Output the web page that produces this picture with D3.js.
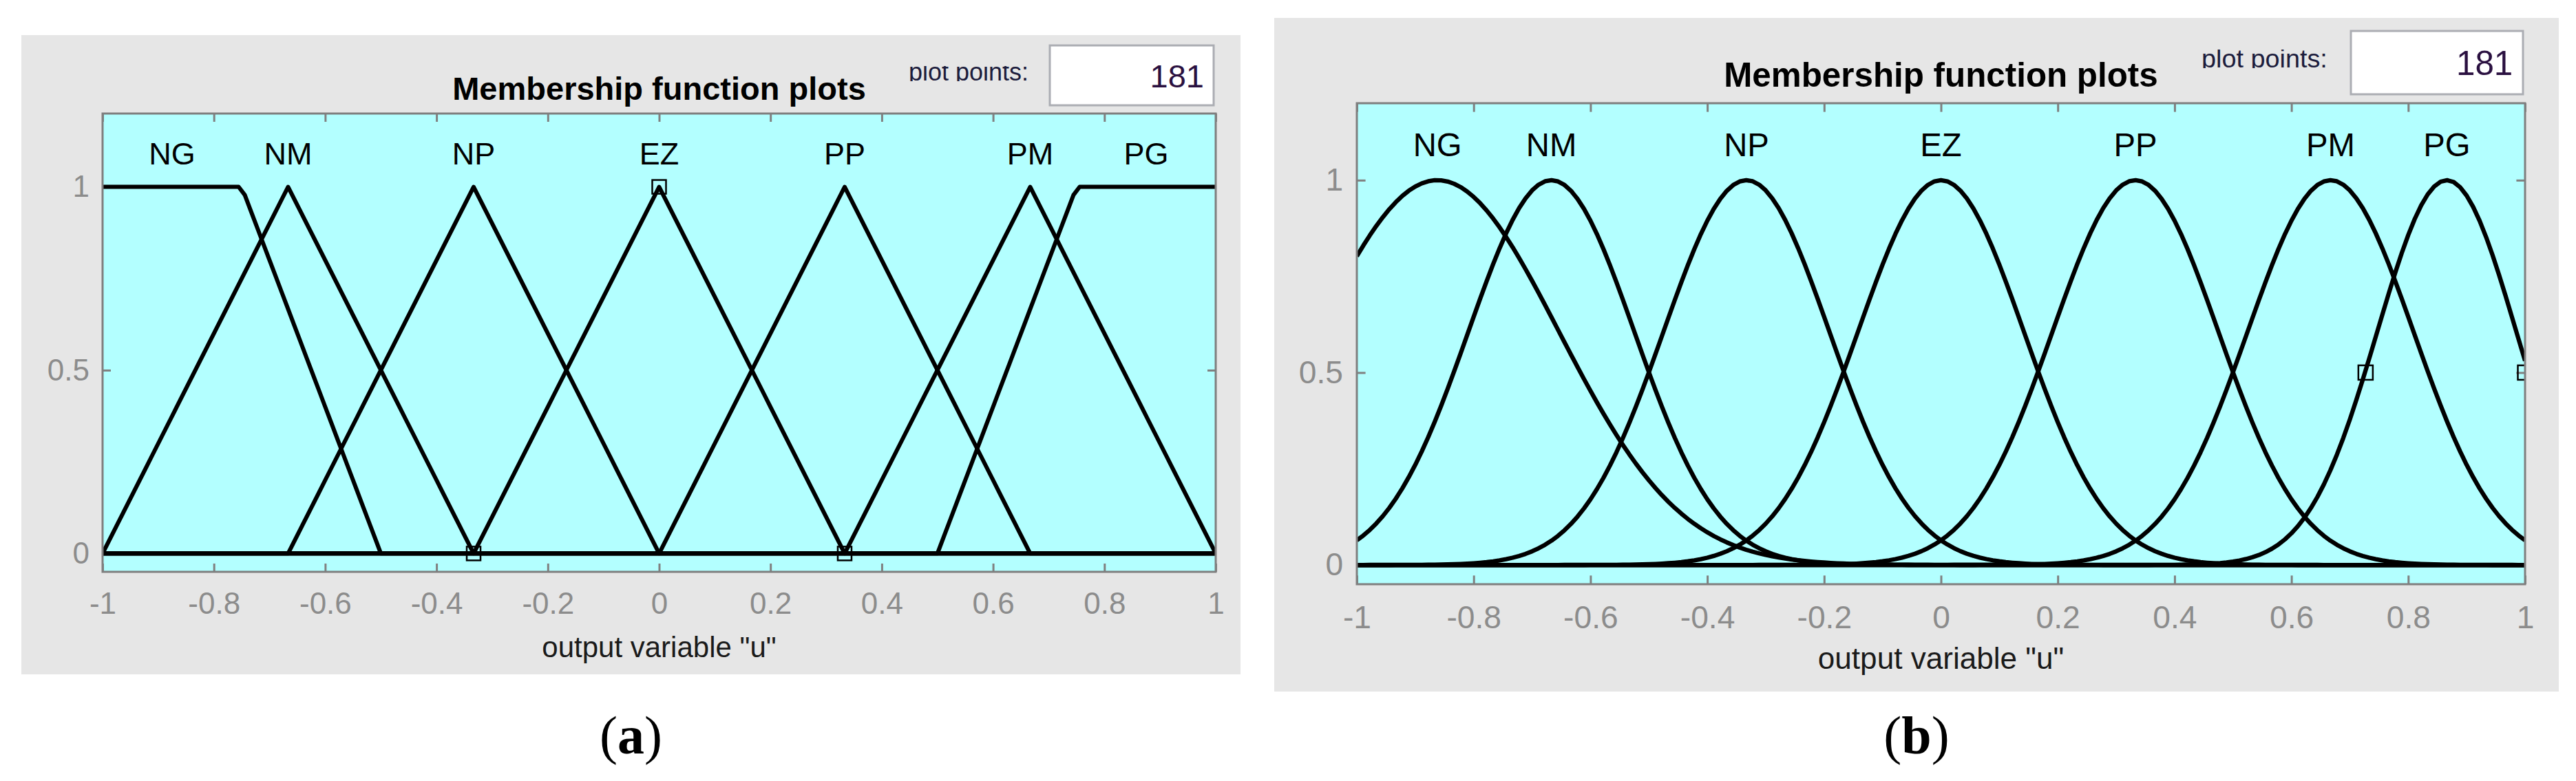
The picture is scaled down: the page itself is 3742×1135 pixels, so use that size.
<!DOCTYPE html>
<html>
<head>
<meta charset="utf-8">
<script src="https://cdn.jsdelivr.net/npm/d3@7"></script>
<style>
  body { margin: 0; background: #fff; }
  svg { display: block; }
  text { font-family: "Liberation Sans", Arial, Helvetica, sans-serif; }
</style>
</head>
<body>
<svg id="chart" width="3742" height="1135"></svg>
<script>
// membership function names (same for both plots)
const mfNames = ["NG", "NM", "NP", "EZ", "PP", "PM", "PG"];

// (a) triangular / trapezoidal functions
const mfTypesA = ["trapmf", "trimf", "trimf", "trimf", "trimf", "trimf", "trapmf"];
const mfParamsA = [
	[-1, -1, -0.75, -0.5],
	[-1, -0.6667, -0.3333],
	[-0.6667, -0.3333, 0],
	[-0.3333, 0, 0.3333],
	[0, 0.3333, 0.6667],
	[0.3333, 0.6667, 1],
	[0.5, 0.75, 1, 1],
];
const labelXA = [-0.875, -0.6667, -0.3333, 0, 0.3333, 0.6667, 0.875];
const markersA = [[-0.3333, 0], [0, 1], [0.3333, 0]];

// (b) gaussian functions
const gaussCenterB = [-0.862, -0.667, -0.333, 0, 0.333, 0.667, 0.866];
const gaussSigmaB = [0.208, 0.142, 0.142, 0.142, 0.142, 0.142, 0.119];
const markersB = [[0.727, 0.5], [1, 0.5]];

const xTicks = [-1, -0.8, -0.6, -0.4, -0.2, 0, 0.2, 0.4, 0.6, 0.8, 1];
const yTicks = [0, 0.5, 1];
const plotPoints = 181;
const xDomain = [-1, 1];
const yDomain = [-0.05, 1.2];

const svg = d3.select("#chart");

function trimf(x, p) {
	const [a, b, c] = p;
	const l = b === a ? (x >= a ? 1 : 0) : (x - a) / (b - a);
	const r = c === b ? (x <= c ? 1 : 0) : (c - x) / (c - b);
	return Math.max(Math.min(l, r), 0);
}
function trapmf(x, p) {
	const [a, b, c, d] = p;
	const l = b === a ? (x >= a ? 1 : 0) : (x - a) / (b - a);
	const r = d === c ? (x <= d ? 1 : 0) : (d - x) / (d - c);
	return Math.max(Math.min(l, 1, r), 0);
}
function gaussmf(x, c, s) {
	return Math.exp(-((x - c) * (x - c)) / (2 * s * s));
}

const xs = d3.range(plotPoints).map(i => xDomain[0] + (i * (xDomain[1] - xDomain[0])) / (plotPoints - 1));

const curvesA = mfParamsA.map((p, i) =>
	xs.map(x => [x, mfTypesA[i] === "trapmf" ? trapmf(x, p) : trimf(x, p)]));
const curvesB = gaussCenterB.map((c, i) => xs.map(x => [x, gaussmf(x, c, gaussSigmaB[i])]));
const labelXB = gaussCenterB;

// matlab style tick labels, plain hyphen for minus
const fmt = d => String(d);

function panel(cfg, curves, labelX, markers) {
	const k = cfg.k;
	const g = svg.append("g");
	g.append("rect").attr("x", cfg.gx).attr("y", cfg.gy).attr("width", cfg.gw).attr("height", cfg.gh)
		.attr("fill", "#e6e6e6");

	const x = d3.scaleLinear().domain(xDomain).range([cfg.pl, cfg.pr]);
	const y = d3.scaleLinear().domain(yDomain).range([cfg.pb, cfg.pt]);

	g.append("rect").attr("x", cfg.pl).attr("y", cfg.pt)
		.attr("width", cfg.pr - cfg.pl).attr("height", cfg.pb - cfg.pt).attr("fill", "#b3ffff");

	const clipId = "clip" + cfg.id;
	g.append("clipPath").attr("id", clipId).append("rect")
		.attr("x", cfg.pl).attr("y", cfg.pt).attr("width", cfg.pr - cfg.pl).attr("height", cfg.pb - cfg.pt);

	// ticks
	const tickLen = 12 * k;
	const axB = g.append("g").attr("transform", `translate(0,${cfg.pb})`)
		.call(d3.axisBottom(x).tickValues(xTicks).tickSize(-tickLen).tickPadding(30 * k).tickFormat(fmt));
	const axT = g.append("g").attr("transform", `translate(0,${cfg.pt})`)
		.call(d3.axisTop(x).tickValues(xTicks).tickSize(-tickLen).tickFormat(""));
	const axL = g.append("g").attr("transform", `translate(${cfg.pl},0)`)
		.call(d3.axisLeft(y).tickValues(yTicks).tickSize(-tickLen).tickPadding(19 * k).tickFormat(fmt));
	const axR = g.append("g").attr("transform", `translate(${cfg.pr},0)`)
		.call(d3.axisRight(y).tickValues(yTicks).tickSize(-tickLen).tickFormat(""));
	[axB, axT, axL, axR].forEach(a => {
		a.select(".domain").remove();
		a.selectAll("line").attr("stroke", "#808080").attr("stroke-width", 3);
		a.selectAll("text").attr("fill", "#8c8c8c").style("font-size", (44 * k) + "px")
			.style("font-family", "'Liberation Sans', Arial, sans-serif");
	});

	// curves
	const line = d3.line().x(d => x(d[0])).y(d => y(d[1]));
	g.append("g").attr("clip-path", `url(#${clipId})`).selectAll("path").data(curves).join("path")
		.attr("d", line).attr("fill", "none").attr("stroke", "#000").attr("stroke-width", 6 * k)
		.attr("stroke-linejoin", "round");

	// selection markers
	const ms = 20 * k;
	g.append("g").attr("clip-path", `url(#${clipId})`).selectAll("rect").data(markers).join("rect")
		.attr("x", d => x(d[0]) - ms / 2).attr("y", d => y(d[1]) - ms / 2)
		.attr("width", ms).attr("height", ms).attr("fill", "none").attr("stroke", "#000").attr("stroke-width", 2.5);

	// axes border
	g.append("rect").attr("x", cfg.pl).attr("y", cfg.pt)
		.attr("width", cfg.pr - cfg.pl).attr("height", cfg.pb - cfg.pt)
		.attr("fill", "none").attr("stroke", "#7f7f7f").attr("stroke-width", 3);

	// mf labels
	g.selectAll("text.mf").data(mfNames).join("text").attr("class", "mf")
		.attr("x", (d, i) => x(labelX[i])).attr("y", y(1.062))
		.attr("text-anchor", "middle").style("font-size", (45 * k) + "px").attr("fill", "#000")
		.text(d => d);

	// title
	g.append("text").attr("x", (cfg.pl + cfg.pr) / 2).attr("y", cfg.titleY)
		.attr("text-anchor", "middle").style("font-size", (47 * k) + "px").style("font-weight", "bold")
		.attr("fill", "#000").text("Membership function plots");

	// x label
	g.append("text").attr("x", (cfg.pl + cfg.pr) / 2).attr("y", cfg.xlabelY)
		.attr("text-anchor", "middle").style("font-size", (42 * k) + "px").attr("fill", "#1a1a1a")
		.text('output variable "u"');

	// plot points field
	const ppClip = "ppclip" + cfg.id;
	g.append("clipPath").attr("id", ppClip).append("rect")
		.attr("x", cfg.ppX - 5).attr("y", cfg.ppClip[0]).attr("width", 260).attr("height", cfg.ppClip[1] - cfg.ppClip[0]);
	g.append("text").attr("clip-path", `url(#${ppClip})`).attr("x", cfg.ppX).attr("y", cfg.ppY)
		.style("font-size", (36 * k) + "px").attr("fill", "#1c1c3c").text("plot points:");
	g.append("rect").attr("x", cfg.box[0]).attr("y", cfg.box[1]).attr("width", cfg.box[2]).attr("height", cfg.box[3])
		.attr("fill", "#fff").attr("stroke", "#abadb3").attr("stroke-width", 3);
	g.append("text").attr("x", cfg.box[0] + cfg.box[2] - 14 * k).attr("y", cfg.numY)
		.attr("text-anchor", "end").style("font-size", (47 * k) + "px").attr("fill", "#2a1040")
		.text(plotPoints);

	// caption
	const cap = g.append("text").attr("x", (cfg.gx + cfg.gx + cfg.gw) / 2).attr("y", 1095)
		.attr("text-anchor", "middle").style("font-family", "'Liberation Serif', 'DejaVu Serif', serif")
		.style("font-size", "78px").attr("fill", "#000");
	cap.append("tspan").text("(");
	cap.append("tspan").style("font-weight", "bold").text(cfg.id);
	cap.append("tspan").text(")");
}

panel({ id: "a", k: 1, gx: 31, gy: 51, gw: 1771, gh: 929, pl: 149, pr: 1766, pt: 165, pb: 831,
	titleY: 145, xlabelY: 955, box: [1525, 66, 238, 87], numY: 127,
	ppX: 1320, ppY: 117, ppClip: [96, 118] }, curvesA, labelXA, markersA);

panel({ id: "b", k: 1.05, gx: 1851, gy: 26, gw: 1866, gh: 979, pl: 1971, pr: 3668, pt: 150, pb: 849,
	titleY: 126, xlabelY: 972, box: [3415, 45, 250, 92], numY: 109,
	ppX: 3198, ppY: 98, ppClip: [72, 99] }, curvesB, labelXB, markersB);
</script>
</body>
</html>
